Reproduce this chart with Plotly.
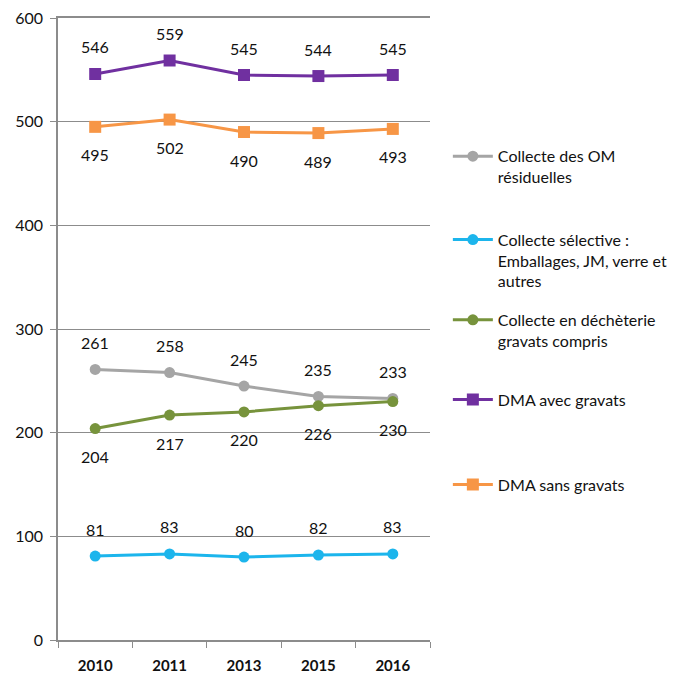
import plotly.graph_objects as go

years = ["2010", "2011", "2013", "2015", "2016"]
names = [
    "Collecte des OM<br>résiduelles",
    "Collecte sélective :<br>Emballages, JM, verre et<br>autres",
    "Collecte en déchèterie<br>gravats compris",
    "DMA avec gravats",
    "DMA sans gravats",
]
om_residuelles = [261, 258, 245, 235, 233]
collecte_selective = [81, 83, 80, 82, 83]
decheterie = [204, 217, 220, 226, 230]
dma_avec = [546, 559, 545, 544, 545]
dma_sans = [495, 502, 490, 489, 493]

series = [om_residuelles, collecte_selective, decheterie, dma_avec, dma_sans]
colors = ["#A5A5A5", "#1CB5EC", "#77933C", "#7030A0", "#F79646"]
symbols = ["circle", "circle", "circle", "square", "square"]
msizes = [11, 11, 11, 12, 12]
label_shift = [27, 27, -28, 27, -28]
legend_ids = ["legend", "legend2", "legend3", "legend4", "legend5"]
legend_y = [0.805, 0.671, 0.542, 0.414, 0.277]

FONT = "Lato"
fig = go.Figure()
for i, vals in enumerate(series):
    fig.add_trace(go.Scatter(
        x=years, y=vals, name=names[i], mode="lines+markers",
        line=dict(color=colors[i], width=3),
        marker=dict(color=colors[i], symbol=symbols[i], size=msizes[i]),
        legend=legend_ids[i], showlegend=True,
    ))
    for j, v in enumerate(vals):
        # category axis: annotation x given as the category index
        fig.add_annotation(x=j, y=v, text=str(v), showarrow=False,
                           yshift=label_shift[i],
                           font=dict(family=FONT, size=16, color="#111111"))

layout_legends = {}
for i, lid in enumerate(legend_ids):
    layout_legends[lid] = dict(
        x=1.048, y=legend_y[i], xref="paper", xanchor="left", yanchor="top",
        bgcolor="rgba(0,0,0,0)", valign="top",
        font=dict(family=FONT, size=16, color="#111111"),
        itemwidth=40, tracegroupgap=0,
    )

fig.update_layout(
    width=683, height=673,
    margin=dict(l=50, r=261, t=10, b=41, autoexpand=False),
    paper_bgcolor="white", plot_bgcolor="white",
    font=dict(family=FONT, size=14, color="#111111"),
    **layout_legends,
)
fig.update_xaxes(
    type="category", range=[-0.5, 4.5], showgrid=False, showline=True,
    mirror=True, linecolor="#8C8C8C", linewidth=1.5, automargin=False,
    ticks="outside", tickson="boundaries", ticklen=6, tickcolor="#8C8C8C",
    ticklabelstandoff=11,
    tickfont=dict(family=FONT, size=15, color="#111111", weight="bold"), zeroline=False,
)
fig.update_yaxes(
    range=[0, 600], dtick=100, showgrid=True, gridcolor="#8C8C8C", gridwidth=1.2,
    showline=True, linecolor="#8C8C8C", linewidth=1.5, ticks="outside", ticklen=6,
    automargin=False, ticklabelstandoff=4, ticklabeloverflow="allow",
    tickcolor="#8C8C8C", tickfont=dict(family=FONT, size=16, color="#111111"),
    zeroline=False,
)
fig.write_html("out.html")
